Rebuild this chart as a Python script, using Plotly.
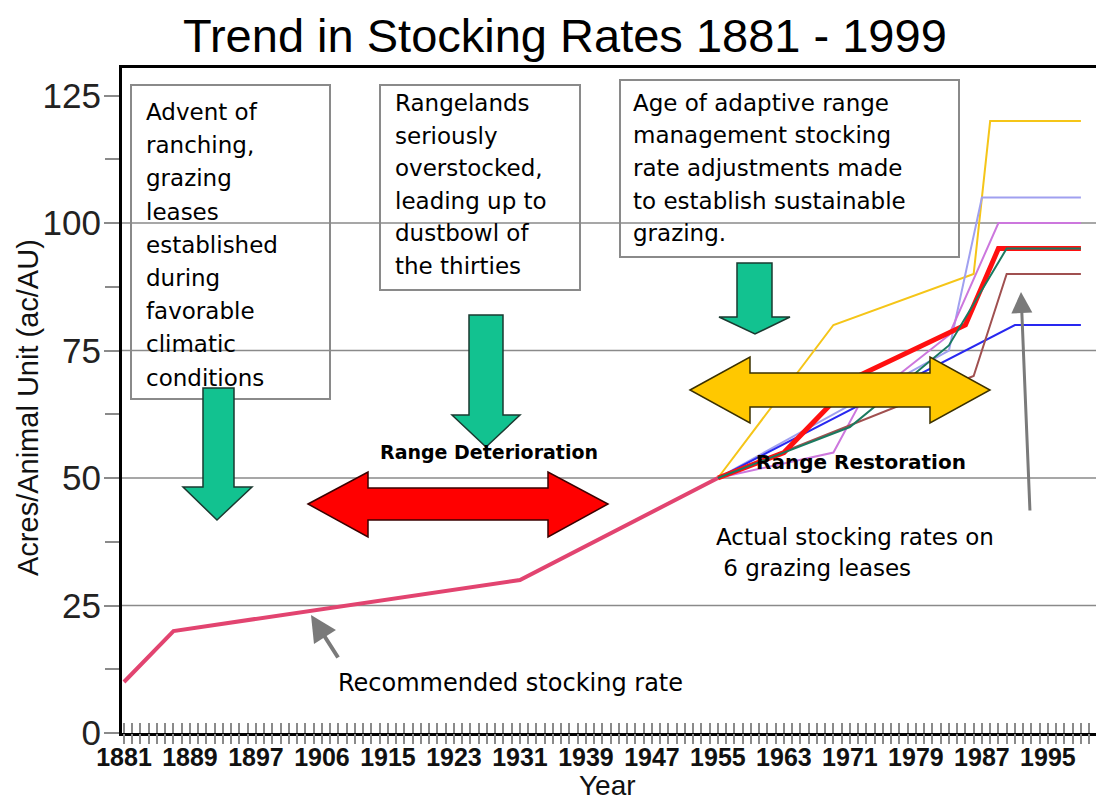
import plotly.graph_objects as go

# ---------------- data ----------------
# category axis: years (two years absent from the original sheet)
years = (list(range(1881, 1898)) + [1898, 1899, 1900, 1901, 1903, 1904, 1905]
         + [1906] + [1907, 1908, 1909, 1910, 1912, 1913, 1914] + list(range(1915, 2000)))
categories = [str(y) for y in years]
tick_labels = ["1881", "1889", "1897", "1906", "1915", "1923", "1931", "1939",
               "1947", "1955", "1963", "1971", "1979", "1987", "1995"]

rec_years = ["1881", "1887", "1931", "1955"]
rec_vals = [10, 20, 30, 50]

yellow_years = ["1955", "1969", "1986", "1988", "1999"]
yellow_vals = [50, 80, 90, 120, 120]

lavender_years = ["1955", "1983", "1987", "1999"]
lavender_vals = [50, 75, 105, 105]

violet_years = ["1955", "1969", "1972", "1983", "1989", "1999"]
violet_vals = [50, 55, 64, 78, 100, 100]

blue_years = ["1955", "1985", "1991", "1999"]
blue_vals = [50, 75, 80, 80]

brown_years = ["1955", "1986", "1990", "1999"]
brown_vals = [50, 70, 90, 90]

red_years = ["1955", "1963", "1972", "1985", "1989", "1999"]
red_vals = [50, 55, 70, 80, 95, 95]

teal_years = ["1955", "1971", "1983", "1990", "1999"]
teal_vals = [50, 60, 76, 95, 95]

y_ticks = [0, 25, 50, 75, 100, 125]
y_minor = [12.5, 37.5, 62.5, 87.5, 112.5]
grid_vals = [25, 50, 75, 100]

box1_lines = ["Advent of", "ranching,", "grazing", "leases", "established",
              "during", "favorable", "climatic", "conditions"]
box2_lines = ["Rangelands", "seriously", "overstocked,", "leading up to",
              "dustbowl of", "the thirties"]
box3_lines = ["Age of adaptive range", "management stocking", "rate adjustments made",
              "to establish sustainable", "grazing."]

# ---------------- geometry helpers (page pixel -> paper) ----------------
PAGE_OFF = 8                      # browser body margin
W_FIG, H_FIG = 1104 - PAGE_OFF, 805 - PAGE_OFF
L, R, T, B = 122, 1104, 68, 733   # plot area in page pixels
PW, PH = R - L, B - T


def px(x):
    return (x - L) / PW


def py(y):
    return (B - y) / PH


X_RANGE = [-0.24, 118.8]
Y_RANGE = [0, 130.4]

TXT = "DejaVu Sans, Verdana, sans-serif"
ARIAL = "Arial, Liberation Sans, sans-serif"

fig = go.Figure()

series = [
    (rec_years, rec_vals, "#E24470", 4),
    (yellow_years, yellow_vals, "#F5C518", 2),
    (lavender_years, lavender_vals, "#A0A0F0", 2),
    (violet_years, violet_vals, "#CC77DD", 2),
    (blue_years, blue_vals, "#2828F0", 2),
    (brown_years, brown_vals, "#A05050", 2),
    (red_years, red_vals, "#FF1010", 5),
    (teal_years, teal_vals, "#1A7A60", 2),
]
for xs, ys, col, w in series:
    fig.add_trace(go.Scatter(x=xs, y=ys, mode="lines",
                             line=dict(color=col, width=w),
                             showlegend=False, hoverinfo="skip"))

# dummy traces so overlay tick axes are drawn
fig.add_trace(go.Scatter(x=[], y=[], xaxis="x2", showlegend=False))
fig.add_trace(go.Scatter(x=[], y=[], xaxis="x3", showlegend=False))

shapes = []
# gridlines
for g in grid_vals:
    shapes.append(dict(type="line", xref="paper", yref="y", x0=0, x1=1, y0=g, y1=g,
                       line=dict(color="#8a8a8a", width=1.5), layer="below"))

# text boxes
for (x0, y0, x1, y1) in [(131, 85, 330, 399), (380, 85, 580, 290), (620, 80, 959, 257)]:
    shapes.append(dict(type="rect", xref="paper", yref="paper",
                       x0=px(x0), x1=px(x1), y0=py(y1), y1=py(y0),
                       line=dict(color="#8a8a8a", width=2), layer="above"))


def down_arrow(sx0, sx1, top, head_y, hx0, hx1, tipx, tipy):
    pts = [(sx0, top), (sx1, top), (sx1, head_y), (hx1, head_y), (tipx, tipy),
           (hx0, head_y), (sx0, head_y)]
    return "M " + " L ".join(f"{px(a):.5f},{py(b):.5f}" for a, b in pts) + " Z"


def double_arrow(ltx, rtx, cy, lbx, rbx, htop, hbot, stop, sbot):
    pts = [(ltx, cy), (lbx, htop), (lbx, stop), (rbx, stop), (rbx, htop), (rtx, cy),
           (rbx, hbot), (rbx, sbot), (lbx, sbot), (lbx, hbot)]
    return "M " + " L ".join(f"{px(a):.5f},{py(b):.5f}" for a, b in pts) + " Z"


GREEN = "#12C290"
for args in [(203, 234, 388, 487, 183, 252, 217, 520),
             (469, 503, 315, 415, 452, 520, 486, 447),
             (737, 772, 263, 317, 719, 790, 755, 334)]:
    shapes.append(dict(type="path", xref="paper", yref="paper", path=down_arrow(*args),
                       fillcolor=GREEN, line=dict(color="#1a3a30", width=1.5), layer="above"))

shapes.append(dict(type="path", xref="paper", yref="paper",
                   path=double_arrow(308, 608, 504, 368, 548, 472, 537, 488, 520),
                   fillcolor="#FF0000", line=dict(color="#3a0000", width=1.5), layer="above"))
shapes.append(dict(type="path", xref="paper", yref="paper",
                   path=double_arrow(690, 990, 390, 750, 930, 357, 423, 373, 407),
                   fillcolor="#FFC800", line=dict(color="#3a3000", width=1.5), layer="above"))

annotations = []


def text_at(txt, x, y, size, family=TXT, xanchor="left", angle=0, color="black", weight="normal"):
    annotations.append(dict(text=txt, xref="paper", yref="paper", x=px(x), y=py(y),
                            showarrow=False, xanchor=xanchor, yanchor="middle", textangle=angle,
                            font=dict(family=family, size=size, color=color, weight=weight)))


# title and axis titles
text_at("Trend in Stocking Rates 1881 - 1999", 565, 35, 47, family=ARIAL, xanchor="center")
text_at("Acres/Animal Unit (ac/AU)", 28, 408, 29, family=ARIAL, xanchor="center", angle=-90, color="#111")
text_at("Year", 607, 785, 28, family=ARIAL, xanchor="center", color="#111")

# box texts, one line each
for i, s in enumerate(box1_lines):
    text_at(s, 144, 112 + i * 33.2, 23)
for i, s in enumerate(box2_lines):
    text_at(s, 393, 103 + i * 32.6, 23)
for i, s in enumerate(box3_lines):
    text_at(s, 631, 103 + i * 32.5, 23)

text_at("Range Deterioration", 489, 452, 19, xanchor="center", weight="bold")
text_at("Range Restoration", 861, 462, 20, xanchor="center", weight="bold")
text_at("Recommended stocking rate", 510, 683, 24, xanchor="center")
text_at("Actual stocking rates on", 714, 537, 23)
text_at(" 6 grazing leases", 714, 568, 23)

# gray pointer arrows (tip in paper coords, tail as pixel offset)
annotations.append(dict(text="", xref="paper", yref="paper", x=px(311), y=py(615),
                        ax=339 - 311, ay=659 - 615, axref="pixel", ayref="pixel",
                        showarrow=True, arrowhead=2, arrowsize=1.3, arrowwidth=4, arrowcolor="#7a7a7a"))
annotations.append(dict(text="", xref="paper", yref="paper", x=px(1021), y=py(292),
                        ax=1030 - 1021, ay=512 - 292, axref="pixel", ayref="pixel",
                        showarrow=True, arrowhead=2, arrowsize=1.4, arrowwidth=3, arrowcolor="#7a7a7a"))

tick_axis = dict(range=X_RANGE, type="linear", tickmode="linear", tick0=0, dtick=1,
                 showticklabels=False, showgrid=False, zeroline=False, showline=False,
                 tickcolor="#8a8a8a", tickwidth=1.5, ticklen=10,
                 overlaying="x", anchor="y", side="bottom")

fig.update_layout(
    width=W_FIG, height=H_FIG,
    margin=dict(l=L - PAGE_OFF, r=0, t=T - PAGE_OFF, b=H_FIG - (B - PAGE_OFF), pad=0),
    paper_bgcolor="white", plot_bgcolor="white",
    showlegend=False,
    xaxis=dict(type="category", categoryorder="array", categoryarray=categories,
               range=X_RANGE, tickmode="array", tickvals=tick_labels, ticktext=tick_labels,
               ticks="", showgrid=False, zeroline=False,
               showline=True, linecolor="black", linewidth=2.5, mirror=True,
               tickfont=dict(family=ARIAL, size=25, color="#111", weight="bold"),
               ticklabelstandoff=0),
    xaxis2=dict(tick_axis, ticks="inside"),
    xaxis3=dict(tick_axis, ticks="outside"),
    yaxis=dict(range=Y_RANGE, tickmode="array", tickvals=y_ticks, ticks="outside",
               ticklen=15, tickcolor="#8a8a8a", tickwidth=1.5,
               minor=dict(tickvals=y_minor, ticks="outside", ticklen=14,
                          tickcolor="#8a8a8a", tickwidth=1.5),
               showgrid=False, zeroline=False,
               showline=True, linecolor="black", linewidth=3,
               tickfont=dict(family=ARIAL, size=35, color="#222"),
               ticklabelstandoff=-4),
    shapes=shapes,
    annotations=annotations,
)

fig.write_html("out.html")
